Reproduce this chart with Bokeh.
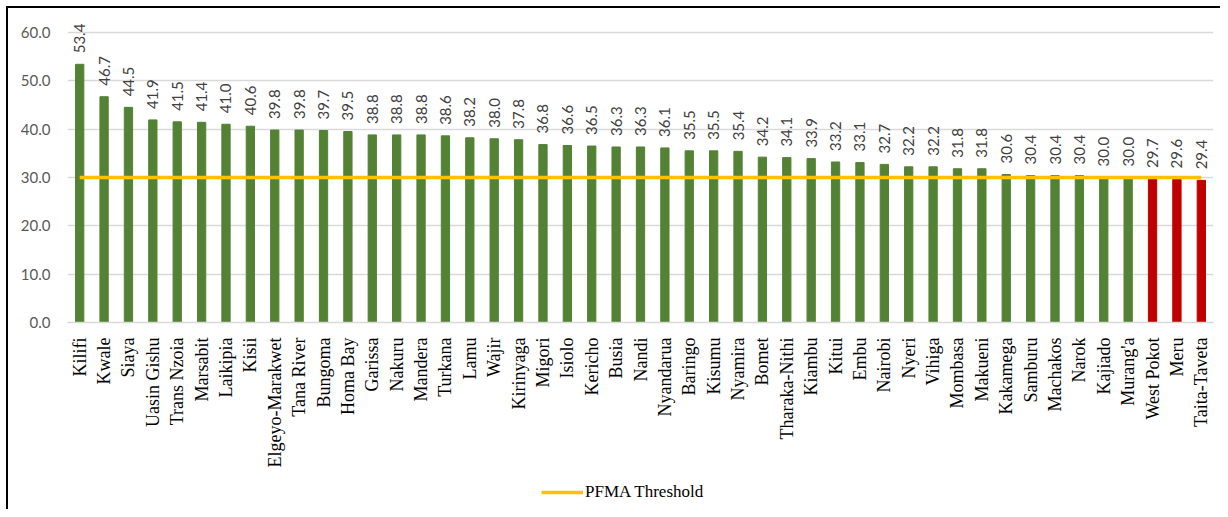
import math
from bokeh.plotting import figure
from bokeh.layouts import column
from bokeh.models import ColumnDataSource, NumeralTickFormatter, FixedTicker, Legend, LegendItem, Range1d
from bokeh.core.properties import value
from bokeh.embed import file_html
from bokeh.resources import INLINE

counties = ["Kilifi", "Kwale", "Siaya", "Uasin Gishu", "Trans Nzoia", "Marsabit", "Laikipia", "Kisii",
            "Elgeyo-Marakwet", "Tana River", "Bungoma", "Homa Bay", "Garissa", "Nakuru", "Mandera", "Turkana",
            "Lamu", "Wajir", "Kirinyaga", "Migori", "Isiolo", "Kericho", "Busia", "Nandi", "Nyandarua",
            "Baringo", "Kisumu", "Nyamira", "Bomet", "Tharaka-Nithi", "Kiambu", "Kitui", "Embu", "Nairobi",
            "Nyeri", "Vihiga", "Mombasa", "Makueni", "Kakamega", "Samburu", "Machakos", "Narok", "Kajiado",
            "Murang'a", "West Pokot", "Meru", "Taita-Taveta"]
values = [53.4, 46.7, 44.5, 41.9, 41.5, 41.4, 41.0, 40.6, 39.8, 39.8, 39.7, 39.5, 38.8, 38.8, 38.8, 38.6,
          38.2, 38.0, 37.8, 36.8, 36.6, 36.5, 36.3, 36.3, 36.1, 35.5, 35.5, 35.4, 34.2, 34.1, 33.9, 33.2,
          33.1, 32.7, 32.2, 32.2, 31.8, 31.8, 30.6, 30.4, 30.4, 30.4, 30.0, 30.0, 29.7, 29.6, 29.4]
threshold = 30.0
y_ticks = [0, 10, 20, 30, 40, 50, 60]

GREEN = "#548235"
RED = "#C00000"
YELLOW = "#FFC000"

colors = [GREEN if v >= threshold else RED for v in values]
labels = ["%.1f" % v for v in values]
src = ColumnDataSource(dict(x=counties, top=values, color=colors, label=labels))

p = figure(x_range=counties, y_range=Range1d(0, 63.7), width=1212, height=467,
           output_backend="svg", toolbar_location=None,
           min_border_left=59, min_border_right=7, min_border_top=6, min_border_bottom=153)
p.outline_line_color = None
p.x_range.range_padding = 0

p.vbar(x="x", top="top", width=0.34, color="color", source=src)
p.line(x=counties, y=[threshold] * len(counties), line_color=YELLOW, line_width=3.5)

p.text(x="x", y="top", text="label", source=src, angle=math.pi / 2, y_offset=-11,
       text_align="left", text_baseline="middle", text_font=value("Lato"),
       text_font_size="15px", text_color="#404040")

p.yaxis.ticker = FixedTicker(ticks=y_ticks)
p.yaxis.formatter = NumeralTickFormatter(format="0.0")
p.yaxis.axis_line_color = None
p.yaxis.major_tick_line_color = None
p.yaxis.minor_tick_line_color = None
p.yaxis.major_label_text_font = "Lato"
p.yaxis.major_label_text_font_size = "15px"
p.yaxis.major_label_text_color = "#595959"
p.yaxis.major_label_standoff = 11

p.xaxis.axis_line_color = "#D9D9D9"
p.xaxis.axis_line_width = 1.5
p.xaxis.major_tick_line_color = None
p.xaxis.minor_tick_line_color = None
p.xaxis.major_label_orientation = math.pi / 2
p.xaxis.major_label_text_font = "Liberation Serif"
p.xaxis.major_label_text_font_size = "18px"
p.xaxis.major_label_text_color = "#000000"
p.xaxis.major_label_standoff = 9

p.xgrid.grid_line_color = None
p.ygrid.ticker = FixedTicker(ticks=y_ticks)
p.ygrid.grid_line_color = "#D9D9D9"
p.ygrid.grid_line_width = 1.5

# legend strip below the chart (its line sits outside the visible range; only the legend shows)
pl = figure(width=1212, height=34, output_backend="svg", toolbar_location=None,
            x_range=Range1d(10, 11), y_range=Range1d(10, 11),
            x_axis_type=None, y_axis_type=None, min_border=0)
pl.outline_line_color = None
pl.xgrid.grid_line_color = None
pl.ygrid.grid_line_color = None
ln = pl.line(x=[0, 1], y=[threshold, threshold], line_color=YELLOW, line_width=3.5)
legend = Legend(items=[LegendItem(label="PFMA Threshold", renderers=[ln])],
                orientation="horizontal", location=(474, 7),
                label_text_font="Liberation Serif", label_text_font_size="17px",
                label_text_color="#000000", border_line_color=None, background_fill_alpha=0,
                glyph_width=42, label_standoff=2, padding=4, margin=0)
pl.add_layout(legend, "center")

layout = column(p, pl, spacing=0,
                styles={"border-top": "2px solid #000000", "border-left": "2px solid #000000",
                        "margin-left": "6px", "margin-top": "6px"})

open("out.html", "w").write(file_html(layout, INLINE))
